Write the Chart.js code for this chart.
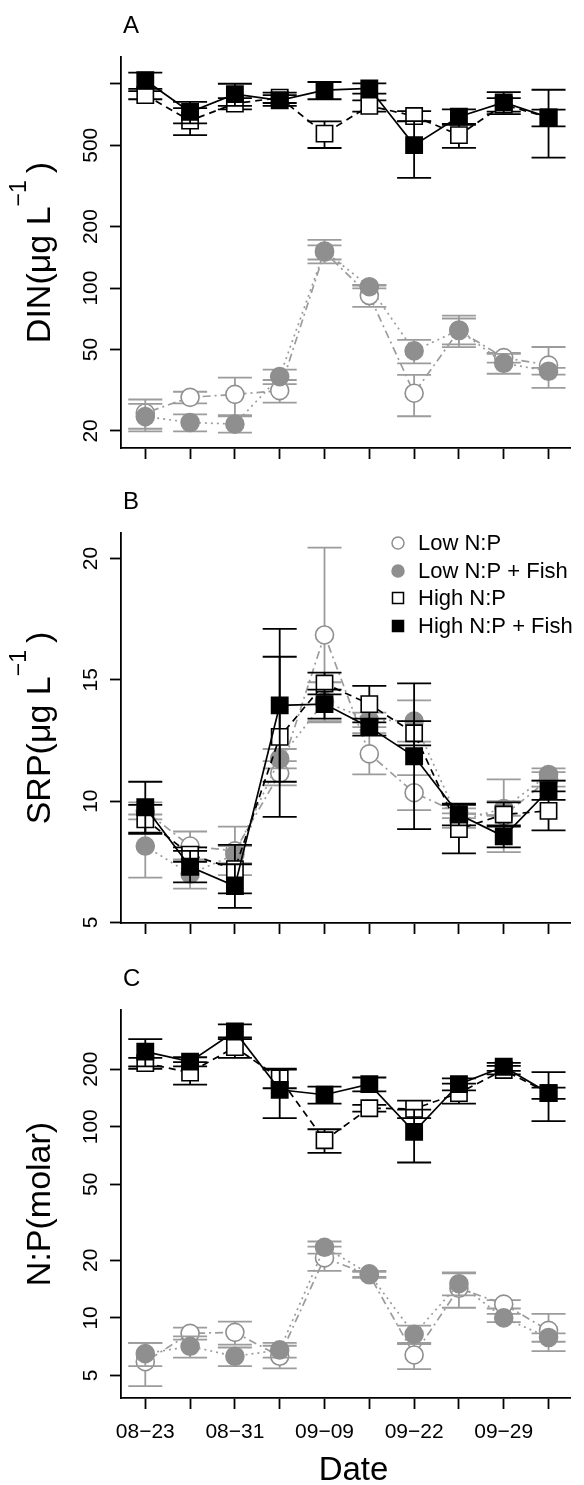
<!DOCTYPE html>
<html>
<head>
<meta charset="utf-8">
<script src="https://cdn.jsdelivr.net/npm/chart.js@4.4.1/dist/chart.umd.min.js"></script>
<style>
    html, body { margin: 0; padding: 0; background: #fff; }
    body { width: 584px; height: 1485px; overflow: hidden; position: relative; }
    .panel { position: absolute; left: 0; width: 584px; }
</style>
</head>
<body>
<div class="panel" style="top:0;height:480px"><canvas id="chartA" width="584" height="480"></canvas></div>
<div class="panel" style="top:480px;height:480px"><canvas id="chartB" width="584" height="480"></canvas></div>
<div class="panel" style="top:960px;height:525px"><canvas id="chartC" width="584" height="525"></canvas></div>
<script>
// sampling dates (index on x axis) - only every second one is labelled
const dateIndex = [0, 1, 2, 3, 4, 5, 6, 7, 8, 9];
const dateLabels = ['08\u221223', '', '08\u221231', '', '09\u221209', '', '09\u221222', '', '09\u221229', ''];

const seriesNames = ['Low N:P', 'Low N:P + Fish', 'High N:P', 'High N:P + Fish'];

// Panel A - DIN (ug/L), log axis
const dinTicks = [20, 50, 100, 200, 500, 1000];
const dinTickLabels = ['20', '50', '100', '200', '500', ''];
const dinLow = [24.5, 29.2, 30.2, 31.5, 150, 92, 30.6, 62, 45.7, 42];
const dinLowErr = [4, 1.9, 6.3, 4, 12, 11, 7, 9, 2.5, 9.5];
const dinLowFish = [23.5, 22, 21.6, 36.9, 152, 101.6, 49.3, 62.4, 42.9, 39.2];
const dinLowFishErr = [3.6, 2.1, 2, 3, 20, 2, 6.5, 11, 4.8, 1.5];
const dinHigh = [880, 660, 800, 855, 570, 780, 695, 561, 790, 683];
const dinHighErr = [40, 100, 50, 50, 85, 50, 40, 75, 60, 65];
const dinHighFish = [1040, 728, 890, 830, 930, 950, 501, 690, 810, 685];
const dinHighFishErr = [95, 88, 110, 50, 90, 55, 155, 60, 100, 250];

// Panel B - SRP (ug/L), linear axis
const srpTicks = [5, 10, 15, 20];
const srpTickLabels = ['5', '10', '15', '20'];
const srpLow = [9.6, 8.15, 7.95, 11.15, 16.85, 11.95, 10.35, 9.5, 9.4, 10.9];
const srpLowErr = [0.35, 0.6, 1.0, 0.5, 3.6, 0.85, 0.72, 0.2, 1.5, 0.3];
const srpLowFish = [8.15, 7.0, 7.8, 11.75, 14.1, 13.35, 13.3, 9.2, 9.7, 11.1];
const srpLowFishErr = [1.3, 0.6, 0.35, 0.4, 0.8, 0.3, 0.85, 0.3, 0.3, 0.25];
const srpHigh = [9.25, 7.8, 7.2, 12.65, 14.85, 14.0, 12.8, 8.85, 9.45, 9.6];
const srpHighErr = [0.6, 0.3, 1.0, 3.3, 0.45, 0.75, 0.5, 1.0, 0.5, 0.8];
const srpHighFish = [9.75, 7.3, 6.5, 13.95, 14.0, 13.05, 11.85, 9.45, 8.55, 10.45];
const srpHighFishErr = [1.05, 0.65, 0.9, 3.15, 0.6, 0.35, 3.0, 0.45, 0.45, 0.4];

// Panel C - N:P (molar), log axis
const npTicks = [5, 10, 20, 50, 100, 200];
const npTickLabels = ['5', '10', '20', '50', '100', '200'];
const npLow = [5.9, 8.3, 8.4, 6.3, 20.6, 16.8, 6.4, 14.3, 11.8, 8.6];
const npLowErr = [1.5, 0.6, 1.15, 0.85, 3, 0.6, 1.0, 3.0, 0.6, 1.9];
const npLowFish = [6.5, 7.1, 6.3, 6.8, 23.4, 17.0, 8.2, 15.1, 10.0, 7.9];
const npLowFishErr = [0.9, 0.9, 0.7, 0.6, 1.7, 0.6, 0.9, 2.0, 0.5, 0.4];
const npHigh = [215, 192, 261, 179, 85, 125, 124, 150, 198, 150];
const npHighErr = [14, 26, 32, 20, 12, 5, 13, 18, 10, 10];
const npHighFish = [247, 219, 315, 156, 147, 167, 94, 167, 206, 150];
const npHighFishErr = [40, 12, 28, 45, 15, 14, 29, 12, 10, 43];

const FONT = '"Liberation Sans", Arial, Helvetica, sans-serif';
const GREY = '#8f8f8f';
const GREY_BAR = '#9c9c9c';

// look of each treatment (same in every panel)
const seriesStyles = [
    { point: 'circle', radius: 9, fill: '#ffffff', edge: GREY, line: GREY_BAR, dash: [2, 4, 8, 4], bar: GREY_BAR, order: 3 },
    { point: 'circle', radius: 9, fill: GREY, edge: GREY, line: GREY_BAR, dash: [2, 4], bar: GREY_BAR, order: 2 },
    { point: 'rect', radius: 11.5, fill: '#ffffff', edge: '#000', line: '#000', dash: [7, 5], bar: '#000', order: 1 },
    { point: 'rect', radius: 11.5, fill: '#000', edge: '#000', line: '#000', dash: [], bar: '#000', order: 0 }
];

// error bars drawn just before each dataset, using the chart's scales
const errorBarPlugin = {
    id: 'errorBars',
    beforeDatasetDraw(chart, args) {
        const ds = chart.data.datasets[args.index];
        if (!ds.errors) return;
        const xs = chart.scales.x, ys = chart.scales.y, ctx = chart.ctx;
        ctx.save();
        ctx.strokeStyle = ds.barColor;
        ctx.lineWidth = 1.8;
        ctx.setLineDash([]);
        ds.data.forEach((p, i) => {
            const e = ds.errors[i];
            const px = xs.getPixelForValue(p.x);
            const yTop = ys.getPixelForValue(p.y + e);
            const yBot = ys.getPixelForValue(p.y - e);
            ctx.beginPath();
            ctx.moveTo(px, yTop); ctx.lineTo(px, yBot);
            ctx.moveTo(px - 17, yTop); ctx.lineTo(px + 17, yTop);
            ctx.moveTo(px - 17, yBot); ctx.lineTo(px + 17, yBot);
            ctx.stroke();
        });
        ctx.restore();
    }
};

function drawYTitle(ctx, area, main, sup, tail) {
    const mainFont = '34px ' + FONT;
    const supFont = '23px ' + FONT;
    ctx.save();
    ctx.font = mainFont;
    const w1 = ctx.measureText(main).width;
    const w3 = tail ? ctx.measureText(tail).width : 0;
    ctx.font = supFont;
    const w2 = sup ? ctx.measureText(sup).width : 0;
    const gap = tail ? 7 : 0;
    const total = w1 + w2 + gap + w3;
    ctx.translate(50, (area.top + area.bottom) / 2);
    ctx.rotate(-Math.PI / 2);
    ctx.fillStyle = '#000';
    ctx.textAlign = 'left';
    ctx.textBaseline = 'alphabetic';
    let x = -total / 2;
    ctx.font = mainFont;
    ctx.fillText(main, x, 0);
    x += w1;
    if (sup) {
        ctx.font = supFont;
        ctx.fillText(sup, x, -24);
        x += w2 + gap;
    }
    if (tail) {
        ctx.font = mainFont;
        ctx.fillText(tail, x, 0);
    }
    ctx.restore();
}

function drawLegend(ctx) {
    const rows = [63, 91, 118, 146];
    ctx.save();
    ctx.font = '22px ' + FONT;
    ctx.textAlign = 'left';
    ctx.textBaseline = 'middle';
    seriesNames.forEach((name, i) => {
        const st = seriesStyles[i];
        const mx = 398, my = rows[i];
        ctx.lineWidth = 1.5;
        ctx.fillStyle = st.fill;
        ctx.strokeStyle = st.edge;
        ctx.beginPath();
        if (st.point === 'circle') ctx.arc(mx, my, 6, 0, Math.PI * 2);
        else ctx.rect(mx - 5.5, my - 5.5, 11, 11);
        ctx.fill();
        ctx.stroke();
        ctx.fillStyle = '#000';
        ctx.fillText(name, 418, my + 1);
    });
    ctx.restore();
}

function makePanel(cfg) {
    const datasets = cfg.values.map((vals, s) => {
        const st = seriesStyles[s];
        return {
            label: seriesNames[s],
            data: dateIndex.map((d, i) => ({ x: d, y: vals[i] })),
            errors: cfg.errors[s],
            barColor: st.bar,
            borderColor: st.line,
            borderWidth: 1.7,
            borderDash: st.dash,
            pointStyle: st.point,
            pointRadius: st.radius,
            pointBackgroundColor: st.fill,
            pointBorderColor: st.edge,
            pointBorderWidth: 1.6,
            tension: 0,
            fill: false,
            clip: false,
            order: st.order
        };
    });

    const decorPlugin = {
        id: 'decor',
        afterDraw(chart) {
            const ctx = chart.ctx, area = chart.chartArea;
            const ys = chart.scales.y, xs = chart.scales.x;
            ctx.save();
            // panel letter
            ctx.fillStyle = '#000';
            ctx.font = '24px ' + FONT;
            ctx.textAlign = 'left';
            ctx.textBaseline = 'alphabetic';
            ctx.fillText(cfg.letter, 123, area.top - 24);
            // y tick labels, written along the axis
            ctx.font = '21px ' + FONT;
            ctx.textAlign = 'center';
            cfg.yTicks.forEach((v, i) => {
                if (!cfg.yLabels[i]) return;
                const py = ys.getPixelForValue(v);
                ctx.save();
                ctx.translate(97, py);
                ctx.rotate(-Math.PI / 2);
                ctx.fillText(cfg.yLabels[i], 0, 0);
                ctx.restore();
            });
            ctx.restore();
            drawYTitle(ctx, area, cfg.title[0], cfg.title[1], cfg.title[2]);
            if (cfg.showDates) {
                ctx.save();
                ctx.fillStyle = '#000';
                ctx.font = '21px ' + FONT;
                ctx.textAlign = 'center';
                ctx.textBaseline = 'alphabetic';
                dateIndex.forEach((d, i) => {
                    if (dateLabels[i]) ctx.fillText(dateLabels[i], xs.getPixelForValue(d), area.bottom + 40);
                });
                ctx.font = '33px ' + FONT;
                ctx.fillText('Date', (area.left + 586) / 2, area.bottom + 82);
                ctx.restore();
            }
            if (cfg.legend) drawLegend(ctx);
        }
    };

    const gridOpts = {
        display: true,
        drawOnChartArea: false,
        drawTicks: true,
        tickLength: 11,
        tickWidth: 1.8,
        tickColor: '#000'
    };
    const borderOpts = { display: true, color: '#000', width: 1.8 };

    return new Chart(document.getElementById(cfg.id), {
        type: 'line',
        data: { datasets: datasets },
        options: {
            responsive: false,
            animation: false,
            events: [],
            layout: { padding: { top: cfg.top, left: 0, right: 0, bottom: 0 } },
            plugins: { legend: { display: false }, tooltip: { enabled: false } },
            scales: {
                x: {
                    type: 'linear',
                    min: -0.542,
                    max: 9.499,
                    afterBuildTicks: (s) => { s.ticks = dateIndex.map(v => ({ value: v })); },
                    afterFit: (s) => { s.height = cfg.height - cfg.bottom; },
                    ticks: { display: false },
                    grid: gridOpts,
                    border: borderOpts
                },
                y: {
                    type: cfg.log ? 'logarithmic' : 'linear',
                    min: cfg.yMin,
                    max: cfg.yMax,
                    afterBuildTicks: (s) => { s.ticks = cfg.yTicks.map(v => ({ value: v })); },
                    afterFit: (s) => { s.width = 121; },
                    ticks: { display: false },
                    grid: gridOpts,
                    border: borderOpts
                }
            }
        },
        plugins: [errorBarPlugin, decorPlugin]
    });
}

makePanel({
    id: 'chartA', letter: 'A', height: 480, top: 57, bottom: 448,
    log: true, yMin: 16.5, yMax: 1352,
    yTicks: dinTicks, yLabels: dinTickLabels,
    title: ['DIN(\u03bcg L', '\u22121', ')'],
    values: [dinLow, dinLowFish, dinHigh, dinHighFish],
    errors: [dinLowErr, dinLowFishErr, dinHighErr, dinHighFishErr]
});

makePanel({
    id: 'chartB', letter: 'B', height: 480, top: 53, bottom: 443,
    log: false, yMin: 4.98, yMax: 21.05,
    yTicks: srpTicks, yLabels: srpTickLabels,
    title: ['SRP(\u03bcg L', '\u22121', ')'],
    legend: true,
    values: [srpLow, srpLowFish, srpHigh, srpHighFish],
    errors: [srpLowErr, srpLowFishErr, srpHighErr, srpHighFishErr]
});

makePanel({
    id: 'chartC', letter: 'C', height: 525, top: 50, bottom: 438,
    log: true, yMin: 3.81, yMax: 408,
    yTicks: npTicks, yLabels: npTickLabels,
    title: ['N:P(molar)', '', ''],
    showDates: true,
    values: [npLow, npLowFish, npHigh, npHighFish],
    errors: [npLowErr, npLowFishErr, npHighErr, npHighFishErr]
});
</script>
</body>
</html>
